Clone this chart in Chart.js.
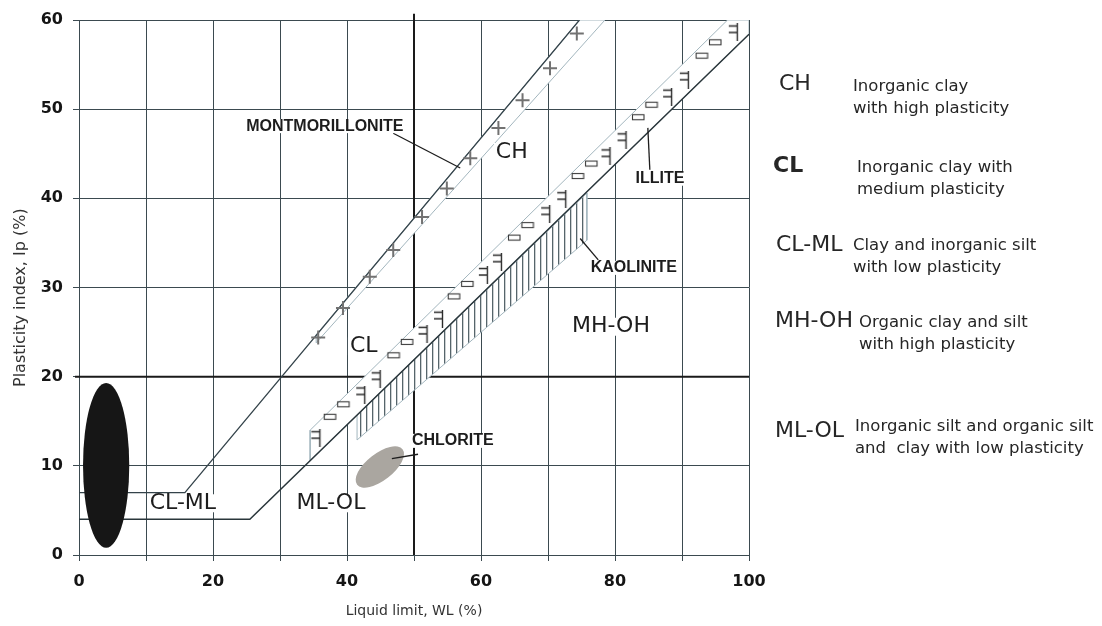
<!DOCTYPE html>
<html>
<head>
<meta charset="utf-8">
<script src="https://cdn.jsdelivr.net/npm/chart.js@4.4.1/dist/chart.umd.min.js"></script>
<style>
  html, body { margin: 0; padding: 0; background: #fff; }
  canvas { display: block; }
</style>
</head>
<body>
<canvas id="plasticidad" width="1102" height="626"></canvas>
<script>
// Carta de plasticidad (Casagrande): Ip vs WL
const etiquetasX = [0, 20, 40, 60, 80, 100];
const etiquetasY = [0, 10, 20, 30, 40, 50, 60];

// linea U y linea A
const lineaUX = [0, 15.8, 74.7];
const lineaUY = [7, 7, 60];
const lineaAX = [0, 25.5, 100];
const lineaAY = [4, 4, 58.4];

// limites gruesos WL = 50 e Ip = 20
const limite50X = [50, 50];
const limite50Y = [0, 60.7];
const limite20X = [-0.6, 100];
const limite20Y = [20, 20];

// bandas de minerales
const montX = [35.4, 74.7, 78.5, 35.4, 35.4];
const montY = [24.7, 60, 60, 23.8, 24.7];
const iliX = [34.5, 100, 100, 96.8, 34.5, 34.5];
const iliY = [10.6, 58.4, 60, 60, 14.0, 10.6];
const caolX = [41.5, 75.8, 75.8, 41.5, 41.5];
const caolY = [15.7, 40.6, 35.3, 12.9, 15.7];

// marcas dentro de las bandas
const cruzX = [35.7, 39.4, 43.4, 46.9, 51.2, 54.9, 58.4, 62.6, 66.2, 70.3, 74.3];
const cruzY = [24.4, 27.7, 31.2, 34.2, 37.9, 41.1, 44.5, 47.9, 51.0, 54.6, 58.5];
const barraX = [35.5, 42.2, 44.5, 51.5, 53.8, 60.5, 62.6, 69.8, 72.2, 78.8, 81.2, 88.0, 90.5, 97.8];
const barraY = [13.1, 18.0, 19.7, 24.8, 26.5, 31.4, 32.9, 38.2, 39.9, 44.7, 46.5, 51.4, 53.3, 58.6];
const cajaX = [37.5, 39.5, 47.0, 49.0, 56.0, 58.0, 65.0, 67.0, 74.5, 76.5, 83.5, 85.5, 93.0, 95.0];
const cajaY = [15.5, 16.9, 22.4, 23.9, 29.0, 30.4, 35.6, 37.0, 42.5, 43.9, 49.1, 50.5, 56.0, 57.5];

// elipses (suelos de baja plasticidad y clorita)
const elipseX = [4.05, 44.9];
const elipseY = [10.05, 9.87];
const elipseRX = [3.45, 4.3];
const elipseRY = [9.25, 1.5];

// rotulos
const zonas = ['CH', 'CL', 'MH-OH', 'CL-ML', 'ML-OL'];
const zonasX = [64.6, 42.5, 79.4, 15.5, 37.6];
const zonasY = [45.2, 23.4, 25.6, 5.8, 5.8];
const minerales = ['MONTMORILLONITE', 'ILLITE', 'KAOLINITE', 'CHLORITE'];
const mineralesX = [36.7, 86.7, 82.8, 55.8];
const mineralesY = [48.1, 42.2, 32.2, 12.8];
const guiaMontX = [46.9, 56.9], guiaMontY = [47.3, 43.4];
const guiaIliX = [85.2, 84.9], guiaIliY = [43.2, 47.9];
const guiaCaolX = [74.8, 77.5], guiaCaolY = [35.5, 33.1];
const guiaCloX = [46.7, 50.6], guiaCloY = [10.8, 11.3];

const codigos = ['CH', 'CL', 'CL-ML', 'MH-OH', 'ML-OL'];
const descripciones = [
    ['Inorganic clay', 'with high plasticity'],
    ['Inorganic clay with', 'medium plasticity'],
    ['Clay and inorganic silt', 'with low plasticity'],
    ['Organic clay and silt', 'with high plasticity'],
    ['Inorganic silt and organic silt', 'and  clay with low plasticity'],
];

const colorRejilla = '#3b4a50';
const colorBorde = '#a3b6be';

function puntos(xs, ys) {
    return xs.map((v, i) => ({ x: v, y: ys[i] }));
}

function glifo(w, h, dibujar) {
    const c = document.createElement('canvas');
    c.width = w;
    c.height = h;
    dibujar(c.getContext('2d'));
    return c;
}

const glifoBarra = glifo(13, 18, (g) => {
    g.strokeStyle = '#2b2b2b';
    g.lineWidth = 1.4;
    g.beginPath();
    g.moveTo(9.5, 0); g.lineTo(9.5, 18);
    g.moveTo(1, 2.5); g.lineTo(9.5, 2.5);
    g.moveTo(1, 9); g.lineTo(9.5, 9);
    g.stroke();
});
const glifoCaja = glifo(15, 8, (g) => {
    g.strokeStyle = '#3a3a3a';
    g.lineWidth = 1.1;
    g.strokeRect(1.5, 1.5, 11.5, 5);
});

const patronCaol = (() => {
    const c = document.createElement('canvas');
    c.width = 6;
    c.height = 8;
    const g = c.getContext('2d');
    g.fillStyle = '#ffffff';
    g.fillRect(0, 0, 6, 8);
    g.fillStyle = '#56656b';
    g.fillRect(0, 0, 1.3, 8);
    return g.createPattern(c, 'repeat');
})();

function linea(etiqueta, xs, ys, color, ancho, orden, extra) {
    return Object.assign({
        label: etiqueta,
        data: puntos(xs, ys),
        borderColor: color,
        borderWidth: ancho,
        pointRadius: 0,
        fill: false,
        tension: 0,
        order: orden,
    }, extra || {});
}

function marcas(etiqueta, xs, ys, estilo, orden, extra) {
    return Object.assign({
        label: etiqueta,
        data: puntos(xs, ys),
        showLine: false,
        pointStyle: estilo,
        pointRadius: 6,
        pointBorderWidth: 2,
        pointBorderColor: '#727272',
        order: orden,
    }, extra || {});
}

function dibujarElipse(chart, i, angulo, color) {
    const { ctx, scales: { x, y } } = chart;
    const cx = x.getPixelForValue(elipseX[i]);
    const cy = y.getPixelForValue(elipseY[i]);
    const rx = Math.abs(x.getPixelForValue(elipseX[i] + elipseRX[i]) - cx);
    const ry = Math.abs(y.getPixelForValue(elipseY[i] + elipseRY[i]) - cy);
    ctx.save();
    ctx.fillStyle = color;
    ctx.beginPath();
    ctx.ellipse(cx, cy, rx, ry, angulo * Math.PI / 180, 0, Math.PI * 2);
    ctx.fill();
    ctx.restore();
}

function rotulo(g, texto, px, py, fuente, alto) {
    g.font = fuente;
    const w = g.measureText(texto).width;
    g.fillStyle = '#ffffff';
    g.fillRect(px - w / 2 - 2, py - alto / 2, w + 4, alto);
    g.fillStyle = '#1d1d1d';
    g.fillText(texto, px, py);
}

const anotaciones = {
    id: 'anotaciones',
    beforeDatasetsDraw(chart) {
        dibujarElipse(chart, 1, -38, '#aaa6a0');
    },
    afterDatasetsDraw(chart) {
        dibujarElipse(chart, 0, 0, '#161616');
        const { ctx, scales: { x, y } } = chart;
        ctx.save();
        ctx.textAlign = 'center';
        ctx.textBaseline = 'middle';
        zonas.forEach((z, i) => {
            rotulo(ctx, z, x.getPixelForValue(zonasX[i]), y.getPixelForValue(zonasY[i]),
                '22px "DejaVu Sans"', 18);
        });
        minerales.forEach((m, i) => {
            rotulo(ctx, m, x.getPixelForValue(mineralesX[i]), y.getPixelForValue(mineralesY[i]),
                'bold 16px "Liberation Sans"', 14);
        });
        ctx.restore();
    },
    afterDraw(chart) {
        const g = chart.ctx;
        const xCod = [779, 773, 776, 775, 775];
        const baseCod = [90, 172, 251, 327, 437];
        const xDes = [853, 857, 853, 859, 855];
        const baseDes = [91, 172, 250, 327, 431];
        g.save();
        g.textAlign = 'left';
        g.textBaseline = 'alphabetic';
        g.fillStyle = '#262626';
        codigos.forEach((c, i) => {
            g.font = (i === 1 ? 'bold ' : '') + '22px "DejaVu Sans"';
            g.fillText(c, xCod[i], baseCod[i]);
            g.font = '16.5px "DejaVu Sans"';
            g.fillText(descripciones[i][0], xDes[i], baseDes[i]);
            g.fillText(descripciones[i][1], xDes[i], baseDes[i] + 22);
        });
        g.restore();
    },
};

const ctx = document.getElementById('plasticidad');

new Chart(ctx, {
    type: 'line',
    data: {
        datasets: [
            linea('WL = 50', limite50X, limite50Y, '#1a1a1a', 2, 20, { clip: false }),
            linea('Ip = 20', limite20X, limite20Y, '#1a1a1a', 2, 20, { clip: false }),
            linea('Montmorillonite', montX, montY, colorBorde, 1, 15, { fill: 'shape', backgroundColor: '#ffffff' }),
            linea('Illite', iliX, iliY, colorBorde, 1, 15, { fill: 'shape', backgroundColor: '#ffffff' }),
            linea('Kaolinite', caolX, caolY, colorBorde, 1, 14, { fill: 'shape', backgroundColor: patronCaol }),
            linea('U-line', lineaUX, lineaUY, '#34434a', 1.3, 10),
            linea('A-line', lineaAX, lineaAY, '#2a363b', 1.5, 10),
            marcas('cruz', cruzX, cruzY, 'cross', 8, { pointRadius: 7 }),
            marcas('barra', barraX, barraY, glifoBarra, 8),
            marcas('caja', cajaX, cajaY, glifoCaja, 8),
            linea('guia montmorillonite', guiaMontX, guiaMontY, '#1d1d1d', 1.3, 5),
            linea('guia illite', guiaIliX, guiaIliY, '#1d1d1d', 1.3, 5),
            linea('guia kaolinite', guiaCaolX, guiaCaolY, '#1d1d1d', 1.3, 5),
            linea('guia chlorite', guiaCloX, guiaCloY, '#1d1d1d', 1.3, 5),
        ],
    },
    options: {
        responsive: false,
        animation: false,
        events: [],
        layout: { padding: { top: 20, right: 353, bottom: 0, left: 0 } },
        plugins: {
            legend: { display: false },
            tooltip: { enabled: false },
        },
        scales: {
            x: {
                type: 'linear',
                min: 0,
                max: 100,
                afterFit(s) { s.height = 71; },
                ticks: {
                    stepSize: 10,
                    autoSkip: false,
                    maxRotation: 0,
                    padding: 11,
                    color: '#151515',
                    font: { family: 'DejaVu Sans', size: 16, weight: 'bold' },
                    callback: (v) => (etiquetasX.includes(v) ? v : ''),
                },
                grid: { color: colorRejilla, lineWidth: 1, tickLength: 6 },
                border: { display: true, color: colorRejilla, width: 1 },
                title: {
                    display: true,
                    text: 'Liquid limit, WL (%)',
                    color: '#333333',
                    font: { family: 'DejaVu Sans', size: 14 },
                    padding: { top: 0, bottom: 6 },
                },
            },
            y: {
                type: 'linear',
                min: 0,
                max: 60,
                afterFit(s) { s.width = 79; },
                ticks: {
                    stepSize: 10,
                    padding: 10,
                    color: '#151515',
                    font: { family: 'DejaVu Sans', size: 16, weight: 'bold' },
                    callback: (v) => (etiquetasY.includes(v) ? v : ''),
                },
                grid: { color: colorRejilla, lineWidth: 1, tickLength: 6 },
                border: { display: true, color: colorRejilla, width: 1 },
                title: {
                    display: true,
                    text: 'Plasticity index, Ip (%)    ',
                    color: '#333333',
                    font: { family: 'DejaVu Sans', size: 16 },
                    padding: { top: 11, bottom: 0 },
                },
            },
        },
    },
    plugins: [anotaciones],
});
</script>
</body>
</html>
